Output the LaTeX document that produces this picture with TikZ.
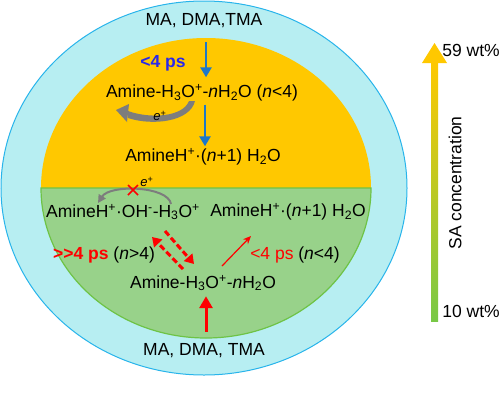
\documentclass[tikz,border=0pt]{standalone}
\usepackage{fontspec}
\setmainfont{Liberation Sans}
\usetikzlibrary{positioning, arrows.meta, calc}

\definecolor{shellcyan}{RGB}{183,238,242}
\definecolor{shellline}{RGB}{40,180,235}
\definecolor{highsa}{RGB}{255,200,0}
\definecolor{lowsa}{RGB}{152,210,138}
\definecolor{lowsaline}{RGB}{110,195,70}
\definecolor{arrowblue}{RGB}{30,120,200}
\definecolor{textblue}{RGB}{40,40,235}
\definecolor{barlow}{RGB}{120,200,70}
\definecolor{swoosh}{RGB}{125,125,125}

\begin{document}
\begin{tikzpicture}[x=1pt, y=-1pt, font=\fontsize{17.5}{20}\selectfont,
    lbl/.style={inner sep=0pt},
    elbl/.style={inner sep=0pt, font=\fontsize{13}{15}\selectfont},
    bluearr/.style={-{Triangle[width=11pt,length=10pt]}, line width=2.8pt, arrowblue},
    redarr/.style={-{Triangle[width=13pt,length=12pt]}, line width=3pt, red},
    thinred/.style={-{Stealth[width=7pt,length=8pt]}, line width=1.2pt, red},
    dashred/.style={-{Triangle[width=11pt,length=9pt]}, line width=3pt, red, dash pattern=on 6pt off 3pt},
    grayarr/.style={-{Triangle[width=8pt,length=8pt]}, swoosh}]
    \useasboundingbox (0,0) rectangle (500,400);

    % Outer shell
    \draw[fill=shellcyan, draw=shellline, line width=1pt] (204,188) ellipse [x radius=203pt, y radius=187pt];

    % High SA (top) and low SA (bottom) halves
    \fill[highsa] (41,188) arc [start angle=180, end angle=0, x radius=165pt, y radius=150pt] -- cycle;
    \draw[fill=lowsa, draw=lowsaline, line width=1.2pt] (41,188) arc [start angle=180, end angle=360, x radius=165pt, y radius=150pt] -- cycle;

    % Top half
    \node[lbl] (ma1) at (204,21) {MA, DMA,TMA};
    \node[lbl, textblue, font=\fontsize{17.5}{20}\selectfont\bfseries] (fast1) at (163,63) {<4 ps};
    \node[lbl] (cl1) at (202,93) {Amine-H\textsubscript{3}O\textsuperscript{+}-\textit{n}H\textsubscript{2}O (\textit{n}<4)};
    \node[lbl] (prod1) at (203,157) {AmineH\textsuperscript{+}·(\textit{n}+1) H\textsubscript{2}O};

    \draw[bluearr] ([xshift=2pt,yshift=-14pt]ma1.south) -- ([xshift=4pt,yshift=7pt]cl1.north);
    \draw[bluearr] ([xshift=3pt,yshift=-3pt]cl1.south) -- ([xshift=2pt,yshift=2pt]prod1.north);

    % e+ swoosh
    \fill[swoosh] (195,101) .. controls (190,122) and (152,126) .. (128,118)
        -- (128,111) .. controls (150,119) and (183,117) .. (189,101) -- cycle;
    \fill[swoosh] (129,104) -- (116,110) -- (127,122) -- cycle;
    \node[elbl] (e1) at (160,116) {\textit{e}\textsuperscript{+}};

    % Bottom half
    \node[lbl] (oh) at (123,212) {AmineH\textsuperscript{+}·OH\textsuperscript{-}-H\textsubscript{3}O\textsuperscript{+}};
    \node[lbl] (prod2) at (288,212) {AmineH\textsuperscript{+}·(\textit{n}+1) H\textsubscript{2}O};
    \node[lbl] (slow) at (104,255) {\textcolor{red}{\bfseries >{}>4 ps} (\textit{n}>4)};
    \node[lbl] (fast2) at (295,255) {\textcolor{red}{<4 ps} (\textit{n}<4)};
    \node[lbl] (cl2) at (203,283) {Amine-H\textsubscript{3}O\textsuperscript{+}-\textit{n}H\textsubscript{2}O};
    \node[lbl] (ma2) at (204,351) {MA, DMA, TMA};
    \node[elbl] (e2) at (147,182) {\textit{e}\textsuperscript{+}};

    \coordinate (g2s) at (171,204);
    \coordinate (g2e) at (98,203);
    \draw[grayarr, line width=2pt] (g2s) .. controls (168,186) and (110,184) .. (g2e);
    \draw[red, line width=1.5pt] (128,185) -- (138,195) (128,195) -- (138,185);

    \coordinate (d1s) at (183,269);
    \coordinate (d1e) at (152,237);
    \coordinate (d2s) at (165,231);
    \coordinate (d2e) at (194,264);
    \draw[dashred] (d1s) -- (d1e);
    \draw[dashred] (d2s) -- (d2e);
    \coordinate (t1s) at (222,266);
    \coordinate (t1e) at (251,236);
    \draw[thinred] (t1s) -- (t1e);
    \draw[redarr] ([xshift=2pt,yshift=12pt]ma2.north) -- ([xshift=3pt,yshift=-5pt]cl2.south);

    % SA concentration bar
    \shade[bottom color=barlow, top color=highsa] (431,321) rectangle (438,60);
    \fill[highsa] (434.5,43) -- (422,63) -- (447,63) -- cycle;
    \node[lbl] (hi) at (471,50) {59 wt\%};
    \node[lbl] (lo) at (471,311) {10 wt\%};
    \node[lbl, rotate=90] (sa) at (455,183) {SA concentration};
\end{tikzpicture}
\end{document}
